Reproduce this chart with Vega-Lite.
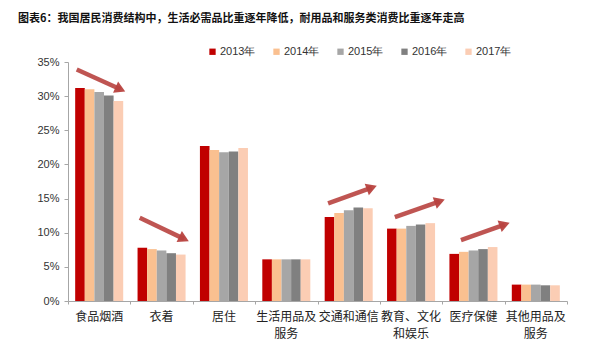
{
  "$schema": "https://vega.github.io/schema/vega-lite/v6.json",
  "width": 499,
  "height": 239,
  "autosize": {"type": "none"},
  "padding": {"left": 68, "top": 62, "right": 33, "bottom": 62},
  "background": "white",
  "title": {
    "text": "图表6：我国居民消费结构中，生活必需品比重逐年降低，耐用品和服务类消费比重逐年走高",
    "anchor": "start",
    "frame": "group",
    "dx": -50,
    "offset": 22,
    "font": "Noto Sans CJK SC",
    "fontSize": 11,
    "fontWeight": "bold",
    "color": "#111111"
  },
  "config": {
    "view": {"stroke": null},
    "axis": {"labelFont": "Liberation Sans", "labelColor": "#333333", "domainColor": "#A6A6A6", "tickColor": "#A6A6A6", "grid": false}
  },
  "datasets": {
    "bars": [
      {"category": "食品烟酒", "year": "2013年", "value": 31.2},
      {"category": "食品烟酒", "year": "2014年", "value": 31.0},
      {"category": "食品烟酒", "year": "2015年", "value": 30.6},
      {"category": "食品烟酒", "year": "2016年", "value": 30.1},
      {"category": "食品烟酒", "year": "2017年", "value": 29.3},
      {"category": "衣着", "year": "2013年", "value": 7.8},
      {"category": "衣着", "year": "2014年", "value": 7.6},
      {"category": "衣着", "year": "2015年", "value": 7.4},
      {"category": "衣着", "year": "2016年", "value": 7.0},
      {"category": "衣着", "year": "2017年", "value": 6.8},
      {"category": "居住", "year": "2013年", "value": 22.7},
      {"category": "居住", "year": "2014年", "value": 22.1},
      {"category": "居住", "year": "2015年", "value": 21.8},
      {"category": "居住", "year": "2016年", "value": 21.9},
      {"category": "居住", "year": "2017年", "value": 22.4},
      {"category": "生活用品及服务", "year": "2013年", "value": 6.1},
      {"category": "生活用品及服务", "year": "2014年", "value": 6.1},
      {"category": "生活用品及服务", "year": "2015年", "value": 6.1},
      {"category": "生活用品及服务", "year": "2016年", "value": 6.1},
      {"category": "生活用品及服务", "year": "2017年", "value": 6.1},
      {"category": "交通和通信", "year": "2013年", "value": 12.3},
      {"category": "交通和通信", "year": "2014年", "value": 12.9},
      {"category": "交通和通信", "year": "2015年", "value": 13.3},
      {"category": "交通和通信", "year": "2016年", "value": 13.7},
      {"category": "交通和通信", "year": "2017年", "value": 13.6},
      {"category": "教育、文化和娱乐", "year": "2013年", "value": 10.6},
      {"category": "教育、文化和娱乐", "year": "2014年", "value": 10.6},
      {"category": "教育、文化和娱乐", "year": "2015年", "value": 11.0},
      {"category": "教育、文化和娱乐", "year": "2016年", "value": 11.2},
      {"category": "教育、文化和娱乐", "year": "2017年", "value": 11.4},
      {"category": "医疗保健", "year": "2013年", "value": 6.9},
      {"category": "医疗保健", "year": "2014年", "value": 7.2},
      {"category": "医疗保健", "year": "2015年", "value": 7.4},
      {"category": "医疗保健", "year": "2016年", "value": 7.6},
      {"category": "医疗保健", "year": "2017年", "value": 7.9},
      {"category": "其他用品及服务", "year": "2013年", "value": 2.4},
      {"category": "其他用品及服务", "year": "2014年", "value": 2.4},
      {"category": "其他用品及服务", "year": "2015年", "value": 2.4},
      {"category": "其他用品及服务", "year": "2016年", "value": 2.3},
      {"category": "其他用品及服务", "year": "2017年", "value": 2.3}
    ],
    "arrows": [
      {"x1": 0.14, "y1": 33.9, "x2": 0.84, "y2": 31.0},
      {"x1": 1.15, "y1": 12.2, "x2": 1.86, "y2": 9.1},
      {"x1": 4.17, "y1": 14.3, "x2": 4.87, "y2": 16.6},
      {"x1": 5.24, "y1": 12.3, "x2": 5.96, "y2": 14.6},
      {"x1": 6.30, "y1": 8.9, "x2": 7.00, "y2": 11.2}
    ]
  },
  "layer": [
    {
      "data": {"name": "bars"},
      "mark": {"type": "bar"},
      "encoding": {
        "x": {
          "field": "category",
          "type": "nominal",
          "sort": ["食品烟酒", "衣着", "居住", "生活用品及服务", "交通和通信", "教育、文化和娱乐", "医疗保健", "其他用品及服务"],
          "scale": {"paddingInner": 0.23, "paddingOuter": 0.115},
          "axis": {
            "title": null,
            "orient": "bottom",
            "labelAngle": 0,
            "ticks": false,
            "domain": true,
            "labelFont": "Noto Sans CJK SC",
            "labelFontSize": 12,
            "labelColor": "#222222",
            "labelPadding": 10,
            "labelLineHeight": 17,
            "labelBaseline": "top",
            "labelExpr": "length(datum.label) > 5 ? [substring(datum.label, 0, 5), substring(datum.label, 5)] : datum.label"
          }
        },
        "xOffset": {"field": "year", "type": "nominal", "scale": {"paddingInner": 0, "paddingOuter": 0}},
        "y": {
          "field": "value",
          "type": "quantitative",
          "scale": {"domain": [0, 35], "nice": false},
          "axis": {"title": null, "values": [0, 5, 10, 15, 20, 25, 30, 35], "labelExpr": "datum.value + '%'", "labelFontSize": 11, "tickSize": 4, "labelPadding": 5}
        },
        "color": {
          "field": "year",
          "type": "nominal",
          "scale": {"domain": ["2013年", "2014年", "2015年", "2016年", "2017年"], "range": ["#C00000", "#FAC090", "#A6A6A6", "#808080", "#FBCDB4"]},
          "legend": {
            "title": null,
            "orient": "none",
            "direction": "horizontal",
            "columns": 5,
            "legendX": 139,
            "legendY": -16,
            "symbolType": "square",
            "symbolSize": 40,
            "symbolStrokeWidth": 0,
            "labelFont": "Liberation Sans",
            "labelFontSize": 11,
            "labelColor": "#333333",
            "labelOffset": 2,
            "columnPadding": 15
          }
        }
      }
    },
    {
      "data": {"name": "arrows"},
      "transform": [
        {"calculate": "atan2((datum.y1 - datum.y2) * 239 / 35, (datum.x2 - datum.x1) * 499 / 8) * 180 / PI", "as": "angle"}
      ],
      "layer": [
        {
          "mark": {"type": "rule", "color": "#B8423F", "strokeWidth": 4.5, "opacity": 0.9},
          "encoding": {
            "x": {"field": "x1", "type": "quantitative", "scale": {"domain": [0, 8], "nice": false}, "axis": {"orient": "bottom", "values": [0, 1, 2, 3, 4, 5, 6, 7, 8], "labels": false, "domain": false, "tickSize": 3, "title": null}},
            "y": {"field": "y1", "type": "quantitative", "axis": {"title": null, "values": [0, 5, 10, 15, 20, 25, 30, 35], "labelExpr": "datum.value + '%'", "labelFontSize": 11, "tickSize": 4, "labelPadding": 5}},
            "x2": {"field": "x2"},
            "y2": {"field": "y2"}
          }
        },
        {
          "mark": {"type": "point", "shape": "triangle-right", "filled": true, "color": "#B8423F", "size": 150, "opacity": 0.95},
          "encoding": {
            "x": {"field": "x2", "type": "quantitative", "axis": {"orient": "bottom", "values": [0, 1, 2, 3, 4, 5, 6, 7, 8], "labels": false, "domain": false, "tickSize": 3, "title": null}},
            "y": {"field": "y2", "type": "quantitative", "axis": {"title": null, "values": [0, 5, 10, 15, 20, 25, 30, 35], "labelExpr": "datum.value + '%'", "labelFontSize": 11, "tickSize": 4, "labelPadding": 5}},
            "angle": {"field": "angle", "type": "quantitative", "scale": null}
          }
        }
      ]
    }
  ],
  "resolve": {"scale": {"x": "independent"}, "axis": {"x": "independent"}}
}
